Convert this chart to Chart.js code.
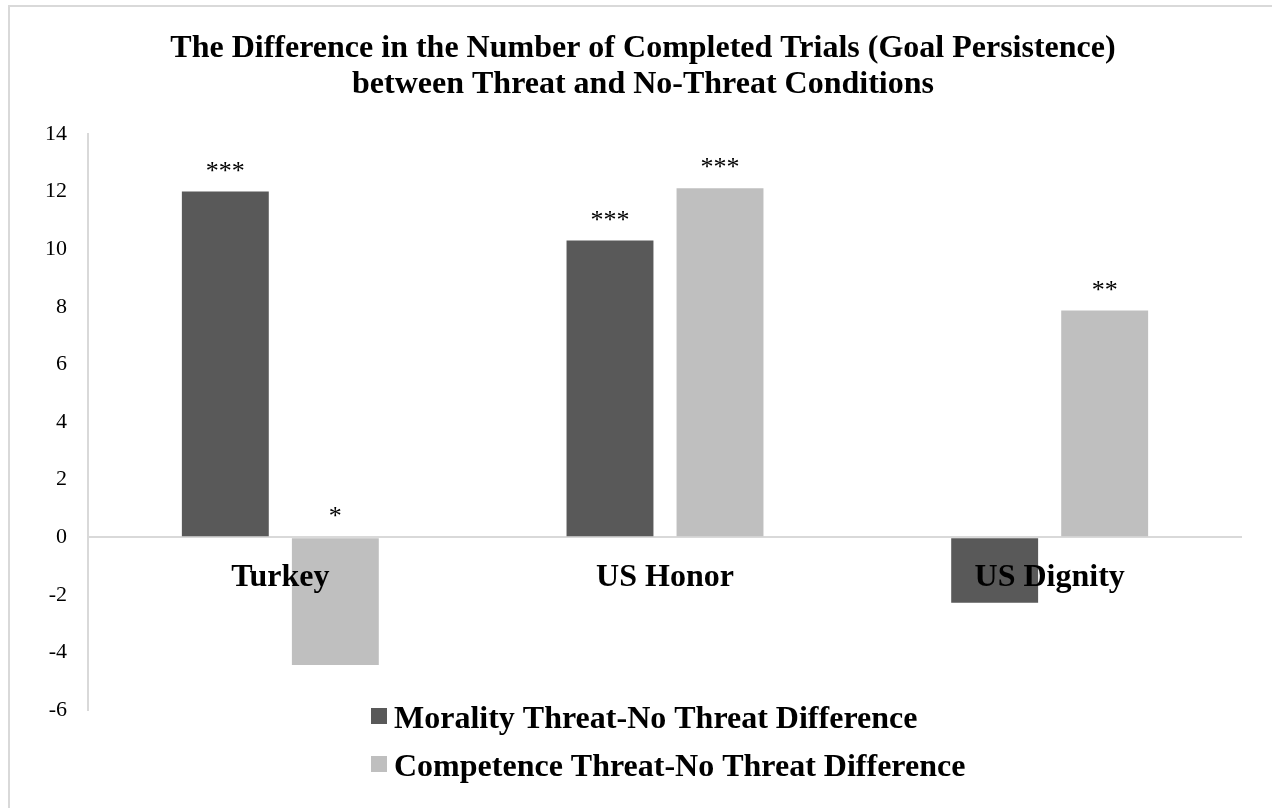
<!DOCTYPE html>
<html>
<head>
<meta charset="utf-8">
<script src="https://cdn.jsdelivr.net/npm/chart.js@4.4.1/dist/chart.umd.min.js"></script>
<style>
  html, body { margin: 0; padding: 0; background: #fff; }
  #c { display: block; }
</style>
</head>
<body>
<canvas id="c" width="1272" height="808"></canvas>
<script>
const categories = ['Turkey', 'US Honor', 'US Dignity'];
const seriesNames = ['Morality Threat-No Threat Difference', 'Competence Threat-No Threat Difference'];
const moralityValues = [12.0, 10.3, -2.28];
const competenceValues = [-4.44, 12.12, 7.87];
const moralitySig = ['***', '***', ''];
const competenceSig = ['*', '***', '**'];
const titleLines = ['The Difference in the Number of Completed Trials (Goal Persistence)', 'between Threat and No-Threat Conditions'];
const yMin = -6, yMax = 14, yStep = 2;

const SERIF = '"Liberation Serif", "Times New Roman", serif';

const overlay = {
  id: 'overlay',
  beforeDraw(chart) {
    const ctx = chart.ctx;
    ctx.save();
    ctx.fillStyle = '#fff';
    ctx.fillRect(0, 0, chart.width, chart.height);
    ctx.strokeStyle = '#d9d9d9';
    ctx.lineWidth = 2;
    ctx.beginPath();
    ctx.moveTo(9, chart.height + 5);
    ctx.lineTo(9, 6);
    ctx.lineTo(chart.width + 5, 6);
    ctx.stroke();
    ctx.restore();
  },
  afterDatasetsDraw(chart) {
    const ctx = chart.ctx;
    const x = chart.scales.x, y = chart.scales.y;
    const zeroY = y.getPixelForValue(0);
    ctx.save();
    ctx.fillStyle = '#000';
    ctx.textAlign = 'center';
    ctx.textBaseline = 'alphabetic';
    ctx.font = '26px ' + SERIF;
    const sigs = [moralitySig, competenceSig];
    chart.data.datasets.forEach((ds, di) => {
      const meta = chart.getDatasetMeta(di);
      meta.data.forEach((bar, i) => {
        const s = sigs[di][i];
        if (!s) return;
        const v = ds.data[i];
        const top = v >= 0 ? bar.y : zeroY;
        ctx.fillText(s, bar.x, top - 13);
      });
    });
    ctx.font = 'bold 32px ' + SERIF;
    categories.forEach((c, i) => {
      ctx.fillText(c, x.getPixelForValue(i), zeroY + 49);
    });
    const lx = 371, ly = [728, 776];
    ctx.textAlign = 'left';
    chart.data.datasets.forEach((ds, di) => {
      ctx.fillStyle = ds.backgroundColor;
      ctx.fillRect(lx, ly[di] - 20, 16, 16);
      ctx.fillStyle = '#000';
      ctx.fillText(ds.label, lx + 23, ly[di]);
    });
    ctx.restore();
  }
};

new Chart(document.getElementById('c'), {
  type: 'bar',
  data: {
    labels: categories,
    datasets: [
      { label: seriesNames[0], data: moralityValues, backgroundColor: '#595959' },
      { label: seriesNames[1], data: competenceValues, backgroundColor: '#bfbfbf' }
    ]
  },
  options: {
    responsive: false,
    animation: false,
    devicePixelRatio: 1,
    categoryPercentage: 0.572,
    barPercentage: 0.79,
    layout: { padding: { left: 44, right: 30, top: 0, bottom: 98 } },
    plugins: {
      legend: { display: false },
      tooltip: { enabled: false },
      title: {
        display: true,
        text: titleLines,
        color: '#000',
        font: { family: SERIF, size: 32, weight: 'bold', lineHeight: 1.125 },
        padding: { top: 31, bottom: 31 }
      }
    },
    scales: {
      x: {
        type: 'category',
        display: false
      },
      y: {
        min: yMin,
        max: yMax,
        afterFit(scale) { scale.width = 44; },
        ticks: {
          stepSize: yStep,
          color: '#000',
          padding: 21,
          font: { family: SERIF, size: 22 }
        },
        grid: {
          drawTicks: false,
          lineWidth: 2,
          color: (ctx) => (ctx.tick && ctx.tick.value === 0 ? '#d9d9d9' : 'rgba(0,0,0,0)')
        },
        border: { display: true, color: '#d9d9d9', width: 2 }
      }
    }
  },
  plugins: [overlay]
});
</script>
</body>
</html>
